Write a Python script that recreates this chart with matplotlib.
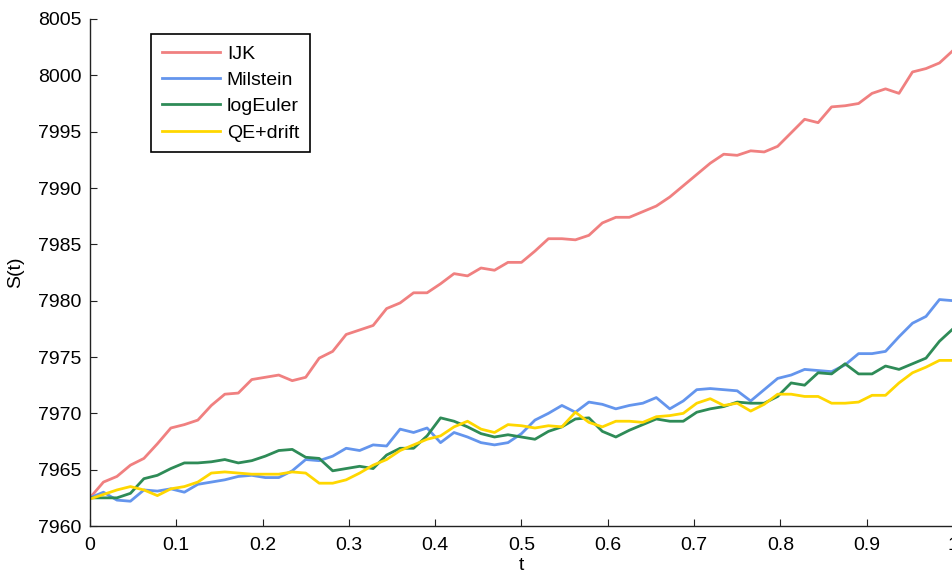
import numpy as np
import matplotlib
matplotlib.use("Agg")
import matplotlib.pyplot as plt

plt.rcParams["font.family"] = ["Liberation Sans", "DejaVu Sans"]

# time grid: 64 steps on [0, 1]
t = np.linspace(0, 1, 65)

ijk = [7962.5, 7963.9, 7964.4, 7965.4, 7966.0, 7967.3, 7968.7, 7969.0, 7969.4, 7970.7,
       7971.7, 7971.8, 7973.0, 7973.2, 7973.4, 7972.9, 7973.2, 7974.9, 7975.5, 7977.0,
       7977.4, 7977.8, 7979.3, 7979.8, 7980.7, 7980.7, 7981.5, 7982.4, 7982.2, 7982.9,
       7982.7, 7983.4, 7983.4, 7984.4, 7985.5, 7985.5, 7985.4, 7985.8, 7986.9, 7987.4,
       7987.4, 7987.9, 7988.4, 7989.2, 7990.2, 7991.2, 7992.2, 7993.0, 7992.9, 7993.3,
       7993.2, 7993.7, 7994.9, 7996.1, 7995.8, 7997.2, 7997.3, 7997.5, 7998.4, 7998.8,
       7998.4, 8000.3, 8000.6, 8001.1, 8002.2]

milstein = [7962.5, 7963.0, 7962.3, 7962.2, 7963.2, 7963.1, 7963.3, 7963.0, 7963.7, 7963.9,
            7964.1, 7964.4, 7964.5, 7964.3, 7964.3, 7964.9, 7965.9, 7965.8, 7966.2, 7966.9,
            7966.7, 7967.2, 7967.1, 7968.6, 7968.3, 7968.7, 7967.4, 7968.3, 7967.9, 7967.4,
            7967.2, 7967.4, 7968.2, 7969.4, 7970.0, 7970.7, 7970.1, 7971.0, 7970.8, 7970.4,
            7970.7, 7970.9, 7971.4, 7970.4, 7971.1, 7972.1, 7972.2, 7972.1, 7972.0, 7971.1,
            7972.1, 7973.1, 7973.4, 7973.9, 7973.8, 7973.7, 7974.3, 7975.3, 7975.3, 7975.5,
            7976.8, 7978.0, 7978.6, 7980.1, 7980.0]

log_euler = [7962.5, 7962.5, 7962.5, 7962.9, 7964.2, 7964.5, 7965.1, 7965.6, 7965.6, 7965.7,
             7965.9, 7965.6, 7965.8, 7966.2, 7966.7, 7966.8, 7966.1, 7966.0, 7964.9, 7965.1,
             7965.3, 7965.1, 7966.3, 7966.9, 7966.9, 7968.0, 7969.6, 7969.3, 7968.8, 7968.2,
             7967.9, 7968.1, 7967.9, 7967.7, 7968.4, 7968.8, 7969.5, 7969.6, 7968.4, 7967.9,
             7968.5, 7969.0, 7969.5, 7969.3, 7969.3, 7970.1, 7970.4, 7970.6, 7971.0, 7970.9,
             7970.9, 7971.5, 7972.7, 7972.5, 7973.6, 7973.5, 7974.4, 7973.5, 7973.5, 7974.2,
             7973.9, 7974.4, 7974.9, 7976.4, 7977.5]

qe_drift = [7962.4, 7962.8, 7963.2, 7963.5, 7963.2, 7962.7, 7963.3, 7963.5, 7963.9, 7964.7,
            7964.8, 7964.7, 7964.6, 7964.6, 7964.6, 7964.8, 7964.7, 7963.8, 7963.8, 7964.1,
            7964.7, 7965.4, 7965.9, 7966.7, 7967.2, 7967.7, 7968.0, 7968.8, 7969.3, 7968.6,
            7968.3, 7969.0, 7968.9, 7968.7, 7968.9, 7968.8, 7970.1, 7969.2, 7968.8, 7969.3,
            7969.3, 7969.2, 7969.7, 7969.8, 7970.0, 7970.9, 7971.3, 7970.7, 7970.9, 7970.2,
            7970.8, 7971.7, 7971.7, 7971.5, 7971.5, 7970.9, 7970.9, 7971.0, 7971.6, 7971.6,
            7972.7, 7973.6, 7974.1, 7974.7, 7974.7]

series = [("IJK", ijk, "#F08080"),
          ("Milstein", milstein, "#6495ED"),
          ("logEuler", log_euler, "#2E8B57"),
          ("QE+drift", qe_drift, "#FFD700")]

fig = plt.figure(figsize=(9.52, 5.74), dpi=100)
ax = fig.add_axes([0.0945, 0.0836, 0.9065, 0.8833])

for name, vals, col in series:
    ax.plot(t, vals, color=col, lw=2, label=name)

ax.set_xlim(0, 1)
ax.set_ylim(7960, 8005)
ax.set_xticks(np.arange(0, 1.01, 0.1))
ax.set_xticklabels(["0", "0.1", "0.2", "0.3", "0.4", "0.5", "0.6", "0.7", "0.8", "0.9", "1"])
ax.set_yticks(np.arange(7960, 8006, 5))
ax.tick_params(direction="in", length=5, labelsize=14, colors="#222222", labelcolor="black")
ax.tick_params(axis="x", pad=8)
ax.tick_params(axis="y", pad=6)
for side in ("top", "right"):
    ax.spines[side].set_visible(False)
for side in ("left", "bottom"):
    ax.spines[side].set_color("#222222")
    ax.spines[side].set_linewidth(1.0)

ax.set_xlabel("t", fontsize=14, labelpad=2)
ax.set_ylabel("S(t)", fontsize=14, labelpad=10)

leg = ax.legend(loc="upper left", bbox_to_anchor=(0.0707, 0.970), borderaxespad=0,
                fontsize=14, fancybox=False, framealpha=1, handlelength=3.0,
                handletextpad=0.35, labelspacing=0.45, borderpad=0.55)
leg.get_frame().set_edgecolor("black")
leg.get_frame().set_linewidth(1.2)

fig.savefig("out.png", dpi=100)
